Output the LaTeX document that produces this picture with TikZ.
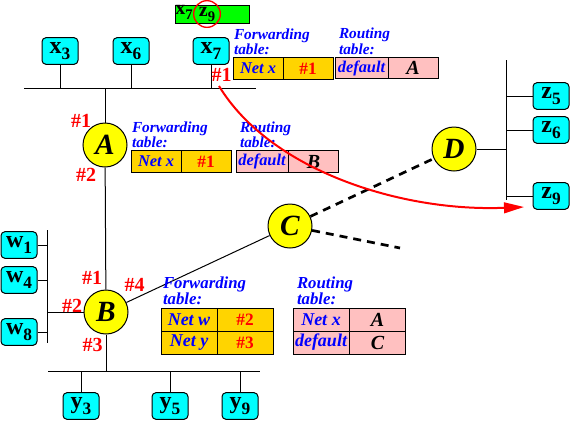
\documentclass[tikz,border=0pt]{standalone}
\usepackage{fontspec}
\setmainfont{Liberation Serif}
\usetikzlibrary{arrows.meta}
\newcommand{\hsub}[2][13]{\raisebox{-0.25em}{\fontsize{#1}{#1}\selectfont #2}}
\begin{document}
\begin{tikzpicture}[x=0.75pt, y=-0.75pt, line width=0.75pt,
    host/.style={draw, fill=hostcolor, rounded corners=3pt, minimum width=27pt, minimum height=20pt, inner sep=0pt, font=\bfseries\fontsize{18}{18}\selectfont},
    router/.style={draw, circle, fill=routercolor, minimum size=33pt, inner sep=0pt, font=\bfseries\itshape\fontsize{22}{22}\selectfont},
    port/.style={text=red, inner sep=0pt, font=\bfseries\fontsize{15}{15}\selectfont},
    ttl/.style={align=left, text=blue, anchor=south west, inner sep=0pt, font=\bfseries\itshape\fontsize{11.5}{8.5}\selectfont},
    bigttl/.style={ttl, font=\bfseries\itshape\fontsize{12.6}{9.5}\selectfont},
    cell/.style={draw, text=blue, minimum width=37.5pt, minimum height=16pt, inner sep=0pt, font=\bfseries\itshape\fontsize{12.3}{12.3}\selectfont},
    bigcell/.style={cell, minimum width=42pt, minimum height=17.25pt, font=\bfseries\itshape\fontsize{13.5}{13.5}\selectfont},
    fwd/.style={fill=fwdcolor},
    rte/.style={fill=rtcolor},
    pnum/.style={text=red, font=\bfseries\fontsize{13}{13}\selectfont},
    rname/.style={text=black, font=\bfseries\itshape\fontsize{15}{15}\selectfont},
    link/.style={dashed, line width=2pt, dash pattern=on 6pt off 4.5pt}]

    % Цвета
    \definecolor{hostcolor}{RGB}{0,255,255}
    \definecolor{routercolor}{RGB}{255,255,0}
    \definecolor{fwdcolor}{RGB}{255,212,0}
    \definecolor{rtcolor}{RGB}{255,192,192}
    \definecolor{pktcolor}{RGB}{0,255,0}

    \useasboundingbox (0,0) rectangle (570,422);

    % Пакет
    \node[draw, fill=pktcolor, minimum width=56pt, minimum height=14pt, inner sep=0pt] (pkt) at (212.5,14.5) {};
    \node[inner sep=0pt, font=\bfseries\fontsize{15}{15}\selectfont] (pkx) at (184,12) {x\hsub[11]{7}};
    \node[draw=red, circle, line width=1pt, minimum size=20pt, inner sep=0pt, font=\bfseries\fontsize{15}{15}\selectfont] (pkz) at (207,14) {z\hsub[11]{9}};

    % Шины
    \coordinate (tbL) at (24,88);   \coordinate (tbR) at (256,88);
    \coordinate (rbT) at (506,60);  \coordinate (rbB) at (506,200);
    \coordinate (lbT) at (47,230);  \coordinate (lbB) at (47,343);
    \coordinate (bbL) at (48,371);  \coordinate (bbR) at (260,371);
    \draw (tbL) -- (tbR);
    \draw (rbT) -- (rbB);
    \draw (lbT) -- (lbB);
    \draw (bbL) -- (bbR);

    % Хосты
    \foreach \n/\x in {3/60,6/131,7/211}
        \node[host] (x\n) at (\x,51) {x\hsub{\n}};
    \foreach \n/\y in {1/245,4/280,8/332}
        \node[host] (w\n) at (19,\y) {w\hsub{\n}};
    \foreach \n/\x in {3/81,5/170,9/240}
        \node[host] (y\n) at (\x,406) {y\hsub{\n}};
    \foreach \n/\y in {5/96,6/130,9/196}
        \node[host] (z\n) at (551,\y) {z\hsub{\n}};

    % Маршрутизаторы
    \node[router] (A) at (105,145) {A};
    \node[router] (B) at (106,312) {B};
    \node[router] (C) at (290,226) {C};
    \node[router] (D) at (454,149) {D};

    % Связи
    \foreach \n in {3,6,7}
        \draw (x\n) -- (x\n |- tbL);
    \foreach \n in {1,4,8}
        \draw (w\n) -- (w\n -| lbT);
    \foreach \n in {3,5,9}
        \draw (y\n) -- (y\n |- bbL);
    \foreach \n in {5,6,9}
        \draw (z\n) -- (z\n -| rbT);
    \draw (A) -- (A |- tbL);
    \draw (A) -- (B);
    \draw (B) -- (B -| lbT);
    \draw (B) -- (B |- bbL);
    \draw (B) -- (C);
    \draw (D) -- (D -| rbT);
    \coordinate (Cout) at (400,248);
    \draw[link] (C) -- (D);
    \draw[link] (C) -- (Cout);

    % Номера портов
    \node[port] (px7) at (221.5,74.5) {\#1};
    \node[port] (pA1) at (81,121) {\#1};
    \node[port] (pA2) at (86,175) {\#2};
    \node[port] (pB1) at (92,278) {\#1};
    \node[port] (pB2) at (72,306) {\#2};
    \node[port] (pB3) at (92.5,344.5) {\#3};
    \node[port] (pB4) at (134.5,284.5) {\#4};

    % Таблицы хоста x7
    \node[cell, fwd] (fT1) at (258,68.5) {Net x};
    \node[cell, fwd, pnum] (fT2) at (308,68.5) {\#1};
    \node[cell, rte, minimum width=39.75pt] (rT1) at (361.5,68) {default};
    \node[cell, rte, rname] (rT2) at (413,68) {A};
    \node[ttl] (fTt) at ([shift={(1,-2)}]fT1.north west) {Forwarding\\table:};
    \node[ttl] (rTt) at ([shift={(4,-2)}]rT1.north west) {Routing\\table:};

    % Таблицы маршрутизатора A
    \node[cell, fwd] (fA1) at (156,161.5) {Net x};
    \node[cell, fwd, pnum] (fA2) at (206,161.5) {\#1};
    \node[cell, rte, minimum width=39pt] (rA1) at (262,161.5) {default};
    \node[cell, rte, rname] (rA2) at (313.5,161.5) {B};
    \node[ttl] (fAt) at ([shift={(1,-2)}]fA1.north west) {Forwarding\\table:};
    \node[ttl] (rAt) at ([shift={(4,-2)}]rA1.north west) {Routing\\table:};

    % Таблицы маршрутизатора B
    \node[bigcell, fwd] (fB1) at (189,319.5) {Net w};
    \node[bigcell, fwd, pnum] (fB2) at (245,319.5) {\#2};
    \node[bigcell, fwd] (fB3) at (189,342.5) {Net y};
    \node[bigcell, fwd, pnum] (fB4) at (245,342.5) {\#3};
    \node[bigcell, rte] (rB1) at (321,319.5) {Net x};
    \node[bigcell, rte, rname] (rB2) at (377.5,319.5) {A};
    \node[bigcell, rte] (rB3) at (321,342.5) {default};
    \node[bigcell, rte, rname] (rB4) at (377.5,342.5) {C};
    \node[bigttl] (fBt) at ([shift={(2,-2)}]fB1.north west) {Forwarding\\table:};
    \node[bigttl] (rBt) at ([shift={(4,-2)}]rB1.north west) {Routing\\table:};

    % Путь пакета
    \coordinate (pstart) at (219,86);
    \coordinate (ptip) at (524,207);
    \draw[red, line width=1.5pt, -{Triangle[length=15pt,width=8pt]}] (pstart) .. controls (270,170) and (400,212) .. (ptip);
\end{tikzpicture}
\end{document}
